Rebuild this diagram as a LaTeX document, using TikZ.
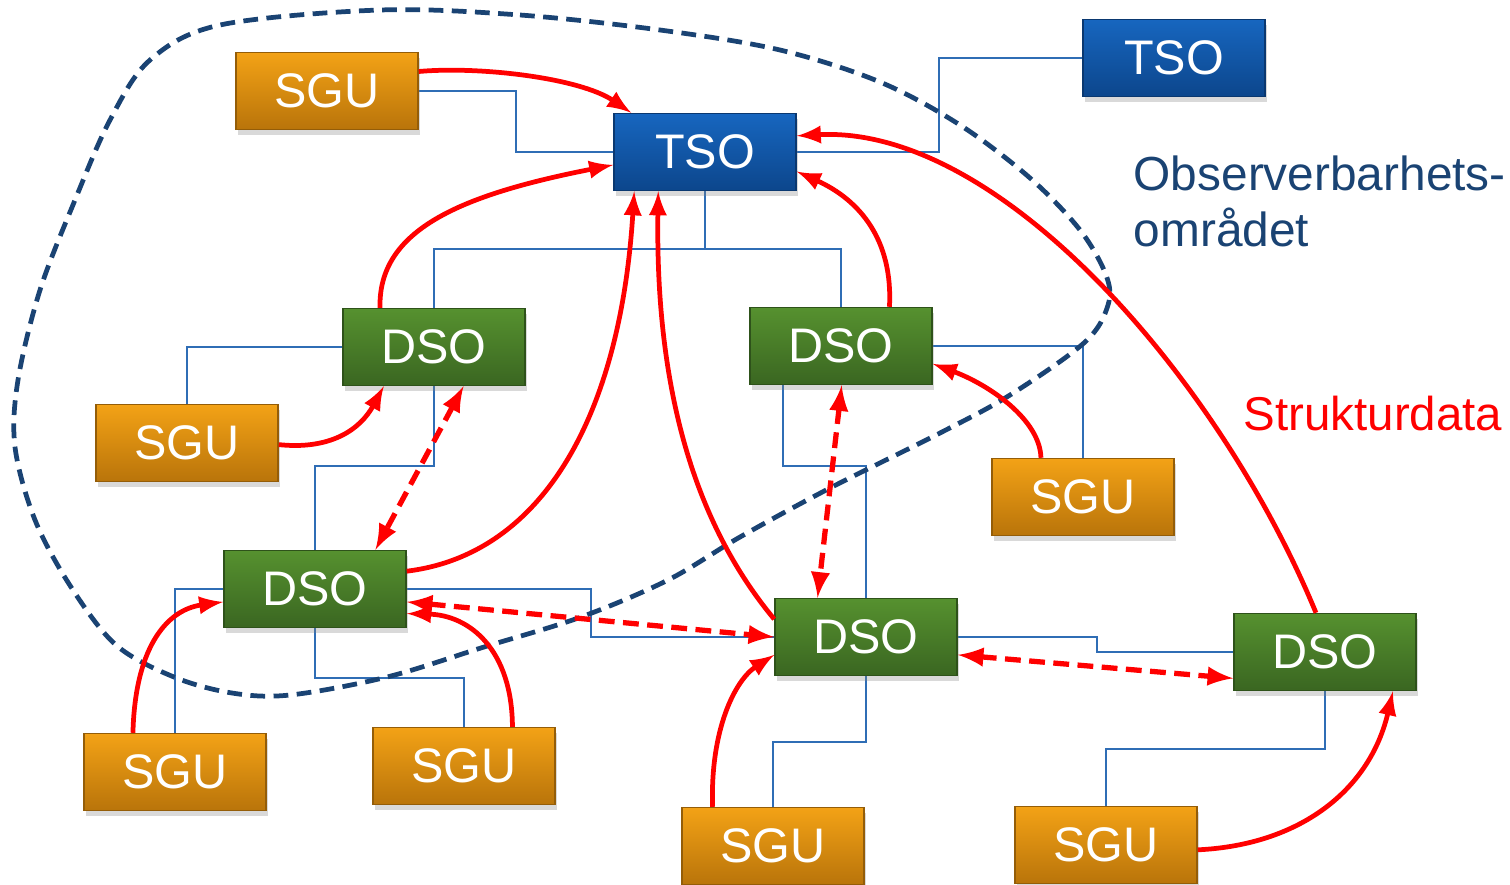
\documentclass[tikz,border=0pt]{standalone}
\usepackage{fontspec}
\setmainfont{Liberation Sans}
\usepackage{tikz}
\usetikzlibrary{shapes}
\usetikzlibrary{arrows}
\usetikzlibrary{shadows}
\usetikzlibrary{calc}

\definecolor{sgutop}{HTML}{F3A216}
\definecolor{sgubot}{HTML}{B9740A}
\definecolor{dsotop}{HTML}{56912F}
\definecolor{dsobot}{HTML}{3A6621}
\definecolor{tsotop}{HTML}{1766BF}
\definecolor{tsobot}{HTML}{0C468C}
\definecolor{tieblue}{HTML}{2F6DB5}
\definecolor{obsblue}{HTML}{1A4373}

\begin{document}
\begin{tikzpicture}[x=0.01cm,y=-0.01cm]
\tikzstyle{unit}=[rectangle,minimum width=1.82cm,minimum height=0.77cm,inner sep=0pt,text=white,font=\fontsize{13.8}{16}\selectfont,drop shadow={opacity=.3,shadow xshift=0.5pt,shadow yshift=-1.6pt}]
\tikzstyle{sgubox}=[unit,top color=sgutop,bottom color=sgubot,draw=sgubot!80!black]
\tikzstyle{dsobox}=[unit,top color=dsotop,bottom color=dsobot,draw=dsobot!80!black]
\tikzstyle{tsobox}=[unit,top color=tsotop,bottom color=tsobot,draw=tsobot!80!black]
\tikzstyle{tie}=[draw=tieblue,line width=0.45pt]
\tikzstyle{report}=[draw=red,line width=1.35pt,-latex]
\tikzstyle{swap}=[draw=red,line width=1.5pt,dash pattern=on 4.5pt off 2.4pt,latex-latex]
\tikzstyle{obsline}=[draw=obsblue,line width=1.35pt,dash pattern=on 4.2pt off 2.4pt]
\useasboundingbox (0,0) rectangle (1510,884);

% thin links
\draw[tie] (327,91) -| (516,120) |- (705,152);
\draw[tie] (705,152) -| (939,100) |- (1174,58);
\draw[tie] (705,152) |- (570,249) -| (434,347);
\draw[tie] (705,249) -| (841,346);
\draw[tie] (434,347) -| (187,443);
\draw[tie] (434,347) |- (370,466) -| (315,589);
\draw[tie] (783,346) |- (830,466) -| (866,637);
\draw[tie] (841,346) -| (1083,497);
\draw[tie] (315,589) -| (175,772);
\draw[tie] (315,589) -| (591,610) |- (866,637);
\draw[tie] (315,589) |- (390,678) -| (464,766);
\draw[tie] (866,637) -| (1097,645) |- (1325,652);
\draw[tie] (866,637) |- (820,742) -| (773,846);
\draw[tie] (1325,652) |- (1200,749) -| (1106,845);

% boxes
\node[sgubox] (sgu1) at (327,91) {SGU};
\node[tsobox] (tso) at (705,152) {TSO};
\node[tsobox] (tso2) at (1174,58) {TSO};
\node[dsobox] (dsoa) at (434,347) {DSO};
\node[dsobox] (dsob) at (841,346) {DSO};
\node[sgubox] (sgu2) at (187,443) {SGU};
\node[sgubox] (sgu3) at (1083,497) {SGU};
\node[dsobox] (dsoc) at (315,589) {DSO};
\node[dsobox] (dsod) at (866,637) {DSO};
\node[dsobox] (dsoe) at (1325,652) {DSO};
\node[sgubox] (sgu4) at (175,772) {SGU};
\node[sgubox] (sgu5) at (464,766) {SGU};
\node[sgubox] (sgu6) at (773,846) {SGU};
\node[sgubox] (sgu7) at (1106,845) {SGU};

% observability area
\draw[obsline] plot[smooth cycle,tension=0.55] coordinates {(380,10) (520,15) (660,30) (780,50) (880,82) (960,125) (1030,178) (1080,230) (1106,275) (1108,305) (1085,342) (1010,395) (940,433) (830,488) (740,537) (668,580) (581,617) (484,647) (387,677) (290,695) (232,693) (174,677) (116,645) (71,587) (35,520) (15,447) (18,380) (40,290) (75,200) (110,120) (150,60) (220,25)};

\node[anchor=north west,align=left,inner sep=0pt,text=obsblue,font=\fontsize{13.6}{15.9}\selectfont] (obs) at (1133,155) {Observerbarhets-\\området};
\node[anchor=base west,inner sep=0pt,text=red,font=\fontsize{13.5}{16}\selectfont] (struct) at (1243,430) {Strukturdata};

% structure data
\draw[report] (sgu1.12) .. controls (480,66) and (580,78) .. (tso.152);
\draw[report] (dsoa.144) .. controls (378,230) and (460,195) .. (tso.188);
\draw[report] (dsoc.11) .. controls (540,555) and (620,420) .. (tso.209);
\draw[report] (dsod.169) .. controls (700,530) and (655,400) .. (tso.220);
\draw[report] (dsob.39) .. controls (893,240) and (860,200) .. (tso.-12);
\draw[report] (dsoe.103) .. controls (1220,380) and (1000,125) .. (tso.10);
\draw[report] (sgu2.-1) .. controls (330,450) and (360,430) .. (dsoa.218);
\draw[report] (sgu3.137) .. controls (1040,420) and (990,385) .. (dsob.-11);
\draw[report] (sgu4.137) .. controls (135,650) and (165,610) .. (dsoc.188);
\draw[report] (sgu5.39) .. controls (512,650) and (470,615) .. (dsoc.-15);
\draw[report] (sgu6.147) .. controls (710,730) and (735,680) .. (dsod.191);
\draw[report] (sgu7.-3) .. controls (1300,845) and (1370,790) .. (dsoe.-30);

% exchange between DSOs
\draw[swap] (dsoa.-53) -- (dsoc.33);
\draw[swap] (dsob.-89) -- (dsod.141);
\draw[swap] (dsoc.-8) -- (dsod.west);
\draw[swap] (dsod.-11) -- (dsoe.196);
\end{tikzpicture}
\end{document}
